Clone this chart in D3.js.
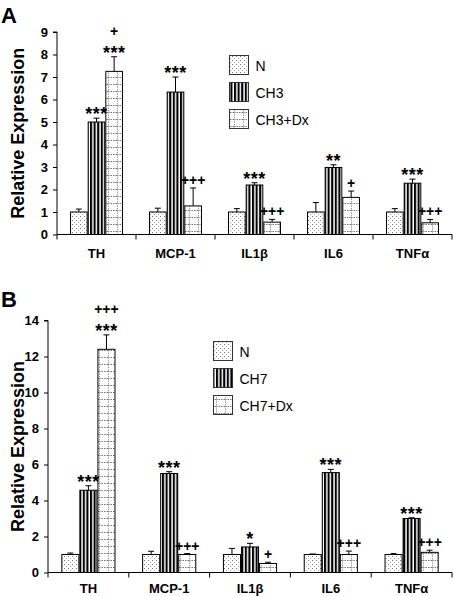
<!DOCTYPE html>
<html><head><meta charset="utf-8">
<script src="https://cdn.jsdelivr.net/npm/d3@7"></script>
<style>
html,body{margin:0;padding:0;background:#fff;}
svg{display:block;font-family:"Liberation Sans",Arial,sans-serif;}
</style>
</head><body>
<svg id="chart" width="454" height="596"></svg>
<script>
// ---- data ----
const categories = ["TH", "MCP-1", "IL1\u03B2", "IL6", "TNF\u03B1"];

// Panel A
const seriesA = ["N", "CH3", "CH3+Dx"];
const nA = [1.0, 1.0, 1.0, 1.0, 1.0];
const nAErr = [0.13, 0.17, 0.15, 0.42, 0.15];
const ch3 = [5.0, 6.33, 2.2, 2.98, 2.28];
const ch3Err = [0.17, 0.67, 0.1, 0.12, 0.18];
const ch3Dx = [7.25, 1.27, 0.55, 1.65, 0.52];
const ch3DxErr = [0.65, 0.8, 0.12, 0.28, 0.15];
const ch3Sig = ["***", "***", "***", "**", "***"];
const ch3DxSig = [["***", "+"], ["+++"], ["+++"], ["+"], ["+++"]];
const ticksA = [0, 1, 2, 3, 4, 5, 6, 7, 8, 9];

// Panel B
const seriesB = ["N", "CH7", "CH7+Dx"];
const nB = [1.0, 1.0, 1.0, 1.0, 1.0];
const nBErr = [0.08, 0.18, 0.34, 0.03, 0.05];
const ch7 = [4.57, 5.5, 1.42, 5.55, 3.0];
const ch7Err = [0.25, 0.1, 0.2, 0.18, 0.04];
const ch7Dx = [12.4, 1.0, 0.5, 1.0, 1.12];
const ch7DxErr = [0.8, 0.05, 0.07, 0.19, 0.12];
const ch7Sig = ["***", "***", "*", "***", "***"];
const ch7DxSig = [["***", "+++"], ["+++"], ["+"], ["+++"], ["+++"]];
const ticksB = [0, 2, 4, 6, 8, 10, 12, 14];

const yLabel = "Relative Expression";

// ---- drawing ----
const svg = d3.select("#chart");
const defs = svg.append("defs");

// dotted (N)
const pN = defs.append("pattern").attr("id", "patN").attr("patternUnits", "userSpaceOnUse")
  .attr("width", 4).attr("height", 4);
pN.append("rect").attr("width", 4).attr("height", 4).attr("fill", "#fff");
pN.append("rect").attr("x", 0).attr("y", 0).attr("width", 1).attr("height", 1).attr("fill", "#777");
pN.append("rect").attr("x", 2).attr("y", 2).attr("width", 1).attr("height", 1).attr("fill", "#aaa");

// vertical stripes (CH)
const pV = defs.append("pattern").attr("id", "patV").attr("patternUnits", "userSpaceOnUse")
  .attr("width", 3.6).attr("height", 4);
pV.append("rect").attr("width", 3.6).attr("height", 4).attr("fill", "#fff");
pV.append("rect").attr("x", 0).attr("width", 2.1).attr("height", 4).attr("fill", "#000");

// dotted grid (Dx)
const pD = defs.append("pattern").attr("id", "patD").attr("patternUnits", "userSpaceOnUse")
  .attr("width", 9).attr("height", 7);
pD.append("rect").attr("width", 9).attr("height", 7).attr("fill", "#fff");
pD.append("line").attr("x1", 0).attr("x2", 9).attr("y1", 0.5).attr("y2", 0.5)
  .attr("stroke", "#777").attr("stroke-width", 1).attr("stroke-dasharray", "1.5,1");
pD.append("line").attr("x1", 0.5).attr("x2", 0.5).attr("y1", 0).attr("y2", 7)
  .attr("stroke", "#999").attr("stroke-width", 1).attr("stroke-dasharray", "1.5,1");

const fills = ["url(#patN)", "url(#patV)", "url(#patD)"];

function drawPanel(p) {
  const g = svg.append("g");
  const x0 = d3.scaleBand().domain(categories).range([p.left, p.right]).padding(0);
  const bw = x0.bandwidth();
  const x1 = d3.scaleBand().domain(p.series).range([bw * 0.165, bw * 0.835]).padding(0);
  const y = d3.scaleLinear().domain([0, p.ticks[p.ticks.length - 1]]).range([p.bottom, p.top]);

  const rows = [];
  p.series.forEach((s, si) => {
    categories.forEach((c, ci) => {
      rows.push({s, si, c, ci, v: p.vals[si][ci], e: p.errs[si][ci], sig: p.sigs[si] ? p.sigs[si][ci] : null});
    });
  });

  // error bars
  const eb = g.append("g");
  rows.forEach(r => {
    const cx = x0(r.c) + x1(r.s) + x1.bandwidth() / 2;
    eb.append("line").attr("x1", cx).attr("x2", cx).attr("y1", y(r.v)).attr("y2", y(r.v + r.e))
      .attr("stroke", "#000").attr("stroke-width", 1);
    eb.append("line").attr("x1", cx - 3).attr("x2", cx + 3).attr("y1", y(r.v + r.e)).attr("y2", y(r.v + r.e))
      .attr("stroke", "#000").attr("stroke-width", 1);
  });

  // bars
  g.append("g").selectAll("rect").data(rows).join("rect")
    .attr("x", d => x0(d.c) + x1(d.s) + 0.5)
    .attr("y", d => y(d.v))
    .attr("width", x1.bandwidth() - 1)
    .attr("height", d => y(0) - y(d.v))
    .attr("fill", d => fills[d.si])
    .attr("stroke", "#000").attr("stroke-width", 1);

  // annotations
  rows.forEach(r => {
    if (!r.sig) return;
    const labels = Array.isArray(r.sig) ? r.sig : [r.sig];
    const cx = x0(r.c) + x1(r.s) + x1.bandwidth() / 2;
    labels.forEach((lab, i) => {
      const star = lab.indexOf("*") >= 0;
      g.append("text").attr("x", cx).attr("y", y(r.v + r.e) - 3 - i * 18 + (star ? 5 : 0))
        .attr("text-anchor", "middle").attr("font-weight", "bold")
        .attr("font-size", star ? 18 : 14)
        .attr("letter-spacing", star ? 0.5 : 0)
        .text(lab);
    });
  });

  // y axis
  const ya = g.append("g").attr("transform", `translate(${p.left},0)`)
    .call(d3.axisLeft(y).tickValues(p.ticks).tickSize(4).tickPadding(5).tickFormat(d3.format("d")));
  ya.select(".domain").attr("stroke", "#000").attr("d", `M0,${y(0)}V${y(p.ticks[p.ticks.length - 1])}H-4`);
  ya.selectAll("text").attr("font-size", 13).attr("font-weight", "bold").attr("fill", "#000")
    .attr("font-family", "Liberation Sans, Arial, sans-serif");
  ya.selectAll("line").attr("stroke", "#000");

  // x axis
  const xa = g.append("g").attr("transform", `translate(0,${y(0)})`);
  xa.append("line").attr("x1", p.left).attr("x2", p.right).attr("stroke", "#000");
  const bounds = categories.map(c => x0(c)).concat([p.right]);
  xa.selectAll(".tk").data(bounds).join("line").attr("class", "tk")
    .attr("x1", d => d).attr("x2", d => d).attr("y1", 0).attr("y2", 5).attr("stroke", "#000");
  xa.selectAll(".cl").data(categories).join("text").attr("class", "cl")
    .attr("x", d => x0(d) + bw / 2).attr("y", p.catDy)
    .attr("text-anchor", "middle").attr("font-weight", "bold").attr("font-size", 13).text(d => d);

  // y label
  g.append("text").attr("transform", `translate(${p.yLabX},${(y(0) + y(p.ticks[p.ticks.length - 1])) / 2}) rotate(-90)`)
    .attr("text-anchor", "middle").attr("font-weight", "bold").attr("font-size", 18).text(yLabel);

  // panel letter
  g.append("text").attr("x", 1).attr("y", p.letterY).attr("font-weight", "bold").attr("font-size", 22).text(p.letter);

  // legend
  const lg = g.append("g");
  p.series.forEach((s, i) => {
    lg.append("rect").attr("x", p.legX).attr("y", p.legY + i * 27).attr("width", 19).attr("height", 19)
      .attr("fill", fills[i]).attr("stroke", "#333").attr("stroke-width", 1);
    lg.append("text").attr("x", p.legX + 26).attr("y", p.legY + i * 27 + 15)
      .attr("font-size", 14).text(s);
  });
}

drawPanel({
  letter: "A", letterY: 23, series: seriesA,
  vals: [nA, ch3, ch3Dx], errs: [nAErr, ch3Err, ch3DxErr], sigs: [null, ch3Sig, ch3DxSig],
  ticks: ticksA, left: 57, right: 452, top: 32, bottom: 234.5, catDy: 23, yLabX: 24,
  legX: 229.5, legY: 55.5
});
drawPanel({
  letter: "B", letterY: 307, series: seriesB,
  vals: [nB, ch7, ch7Dx], errs: [nBErr, ch7Err, ch7DxErr], sigs: [null, ch7Sig, ch7DxSig],
  ticks: ticksB, left: 48, right: 452, top: 320.5, bottom: 572.5, catDy: 20, yLabX: 24,
  legX: 213.5, legY: 341.5
});
</script>
</body></html>
